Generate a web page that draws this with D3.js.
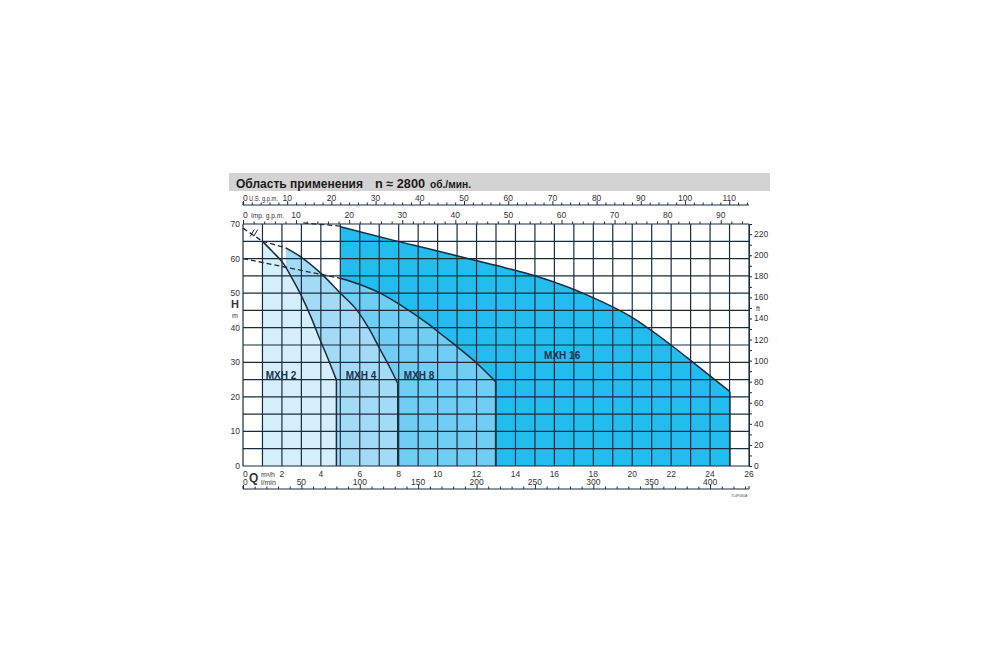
<!DOCTYPE html>
<html><head><meta charset="utf-8">
<script src="https://cdn.jsdelivr.net/npm/d3@7"></script>
<style>
body{margin:0;background:#fff}
svg{display:block}
text{font-family:"Liberation Sans",Arial,Helvetica,sans-serif}
</style>
</head><body>
<svg id="c" width="1000" height="667"></svg>
<script>
// ---------- data ----------
const qLabels   = [0,2,4,6,8,10,12,14,16,18,20,22,24,26];          // m3/h
const lminLabels= [0,50,100,150,200,250,300,350,400];               // l/min
const usLabels  = [0,10,20,30,40,50,60,70,80,90,100,110];           // U.S. g.p.m.
const impLabels = [0,10,20,30,40,50,60,70,80,90];                   // Imp. g.p.m.
const hLabels   = [0,10,20,30,40,50,60,70];                         // m
const ftLabels  = [0,20,40,60,80,100,120,140,160,180,200,220];      // ft

const mxh2Q  = [1, 1.5, 2.07, 2.5, 3.02, 3.5, 3.97, 4.4, 4.8];
const mxh2H  = [65, 62.1, 58.6, 54.5, 49, 43.0, 36.4, 30.6, 24.9];
const mxh4Q  = [2.2, 3.02, 4.05, 5.0, 5.85, 6.5, 6.97, 7.5, 7.95];
const mxh4H  = [63.1, 60.3, 55.5, 50, 45.1, 39.5, 34.5, 29, 23.9];
const mxh8Q  = [5, 6, 7.05, 8.08, 9.46, 10.3, 11.0, 12, 12.98];
const mxh8H  = [54.3, 52.5, 50, 46.6, 41.3, 37.6, 34.5, 29.8, 24.4];
const mxh16Q = [5, 8, 10, 11.86, 13.5, 15.12, 17.87, 19.93, 21.99, 23.19, 25.02];
const mxh16H = [69.2, 64.9, 62.2, 59.6, 57.3, 54.8, 49, 43.2, 35, 29.7, 21.5];

const seriesNames = ["MXH 16","MXH 8","MXH 4","MXH 2"];
const seriesColors= ["#22bdee","#70cdf4","#a3dbf6","#d4eefb"];
const labelQ = [16.4, 9.05, 6.06, 1.95];
const labelH = [32.1, 26.3, 26.3, 26.3];

// dashed extension lines [Q...],[H...]
const dashQ = [[0,1],[1,2.2],[0,5],[3.1,5]];
const dashH = [[68.8,65],[65,63.1],[60,54.3],[70.3,69.4]];

// ---------- scales ----------
const svg = d3.select("#c");
const x = d3.scaleLinear().domain([0,26]).range([243,749]);
const y = d3.scaleLinear().domain([0,70]).range([466,224]);
const xUS  = d3.scaleLinear().domain([0,26*4.40287]).range([243,749]);
const xImp = d3.scaleLinear().domain([0,26*3.66615]).range([243,749]);
const xL   = d3.scaleLinear().domain([0,26*16.6667]).range([243,749]);
const yFt  = d3.scaleLinear().domain([0,70*3.28084]).range([466,224]);

const ink = "#1b2c3e", txt = "#333";

// ---------- title ----------
svg.append("rect").attr("x",229).attr("y",173).attr("width",541).attr("height",18).attr("fill","#d3d3d3");
svg.append("text").attr("x",236).attr("y",188).attr("font-size",13.2).attr("font-weight","bold").attr("fill","#1a1a1a")
   .attr("textLength",127).attr("lengthAdjust","spacingAndGlyphs").text("Область применения");
svg.append("text").attr("x",375).attr("y",188).attr("font-size",12).attr("font-weight","bold").attr("fill","#1a1a1a")
   .attr("textLength",50).attr("lengthAdjust","spacingAndGlyphs").text("n ≈ 2800");
svg.append("text").attr("x",430).attr("y",188).attr("font-size",10).attr("font-weight","bold").attr("fill","#1a1a1a")
   .attr("textLength",41).attr("lengthAdjust","spacingAndGlyphs").text("об./мин.");

// ---------- regions ----------
const allQ = [mxh16Q, mxh8Q, mxh4Q, mxh2Q];
const allH = [mxh16H, mxh8H, mxh4H, mxh2H];
const area = d3.area().x(d=>x(d[0])).y0(y(0)).y1(d=>y(d[1])).curve(d3.curveMonotoneX);
const line = d3.line().x(d=>x(d[0])).y(d=>y(d[1])).curve(d3.curveMonotoneX);
const pts = allQ.map((qs,i)=>qs.map((q,j)=>[q, allH[i][j]]));
svg.append("g").selectAll("path").data(pts).join("path")
   .attr("d", area).attr("fill",(d,i)=>seriesColors[i]);

// ---------- grid ----------
const grid = svg.append("g").attr("stroke",ink).attr("stroke-width",1.2);
grid.selectAll(".v").data(d3.range(0,27,1)).join("line").attr("class","v")
   .attr("x1",d=>x(d)).attr("x2",d=>x(d)).attr("y1",y(70)).attr("y2",y(0));
grid.selectAll(".h").data(d3.range(0,71,5)).join("line").attr("class","h")
   .attr("x1",x(0)).attr("x2",x(26)).attr("y1",d=>y(d)).attr("y2",d=>y(d));

// ---------- curves ----------
const cg = svg.append("g").attr("fill","none").attr("stroke",ink).attr("stroke-width",1.5);
cg.selectAll(".c").data(pts).join("path").attr("class","c").attr("d",line);
cg.selectAll(".e").data(pts).join("line").attr("class","e")
   .attr("x1",d=>x(d[d.length-1][0])).attr("x2",d=>x(d[d.length-1][0]))
   .attr("y1",d=>y(d[d.length-1][1])).attr("y2",y(0));
const dashPts = dashQ.map((qs,i)=>qs.map((q,j)=>[q,dashH[i][j]]));
svg.append("g").selectAll("path").data(dashPts).join("path")
   .attr("d", d3.line().x(d=>x(d[0])).y(d=>y(d[1])))
   .attr("fill","none").attr("stroke",ink).attr("stroke-width",1.3).attr("stroke-dasharray","5,3");
// break mark "//"
[0.5,0.68].forEach(q=>{
  svg.append("line").attr("x1",x(q)-2.5).attr("y1",y(66.4)).attr("x2",x(q)+1.5).attr("y2",y(68.4))
     .attr("stroke",ink).attr("stroke-width",1);
});

// ---------- series labels ----------
svg.append("g").selectAll("text").data(seriesNames).join("text")
   .attr("x",(d,i)=>x(labelQ[i])).attr("y",(d,i)=>y(labelH[i])+3.5)
   .attr("text-anchor","middle").attr("font-size",10).attr("font-weight","bold").attr("fill","#1c3350")
   .text(d=>d);

// ---------- axes ----------
const fs = 8.5;
// left H
svg.append("g").selectAll("text").data(hLabels).join("text")
   .attr("x",240).attr("y",d=>y(d)+3).attr("text-anchor","end").attr("font-size",fs).attr("fill",txt).text(d=>d);
svg.append("text").attr("x",235).attr("y",308).attr("text-anchor","middle").attr("font-size",11).attr("font-weight","bold").attr("fill",txt).text("H");
svg.append("text").attr("x",235).attr("y",318).attr("text-anchor","middle").attr("font-size",7).attr("fill",txt).text("m");

// right ft
const rAx = svg.append("g").attr("transform",`translate(${x(26)},0)`)
   .call(d3.axisRight(yFt).tickValues(d3.range(0,221,10)).tickSize(3).tickFormat(""));
rAx.select(".domain").attr("stroke",ink);
rAx.selectAll("line").attr("stroke",ink);
svg.append("g").selectAll("text").data(ftLabels).join("text")
   .attr("x",754).attr("y",d=>yFt(d)+3).attr("font-size",fs).attr("fill",txt).text(d=>d);
svg.append("text").attr("x",756).attr("y",yFt(150)+3).attr("font-size",7).attr("fill",txt).text("ft");

// top U.S. gpm ruler
const usAx = svg.append("g").attr("transform","translate(0,205)")
   .call(d3.axisTop(xUS).tickValues(d3.range(0,115,2)).tickSize(2.5).tickFormat(""));
usAx.selectAll("line").attr("stroke",ink);
usAx.select(".domain").attr("d",`M${xUS(0)},-3V0H${x(26)}`).attr("stroke",ink);
usAx.selectAll(".tick").filter(d=>d%10===0).select("line").attr("y2",-4);
svg.append("g").selectAll("text").data(usLabels).join("text")
   .attr("x",d=>xUS(d)).attr("y",201).attr("text-anchor",d=>d===0?"start":"middle").attr("font-size",fs).attr("fill",txt).text(d=>d);
svg.append("text").attr("x",249).attr("y",201).attr("font-size",7).attr("fill",txt)
   .attr("textLength",29).attr("lengthAdjust","spacingAndGlyphs").text("U.S. g.p.m.");

// top Imp gpm (ticks on plot top border)
const impAx = svg.append("g").attr("transform",`translate(0,${y(70)})`)
   .call(d3.axisTop(xImp).tickValues(d3.range(0,96,2)).tickSize(2.5).tickFormat(""));
impAx.select(".domain").remove();
impAx.selectAll("line").attr("stroke",ink);
impAx.selectAll(".tick").filter(d=>d%10===0).select("line").attr("y2",-4);
svg.append("g").selectAll("text").data(impLabels).join("text")
   .attr("x",d=>xImp(d)).attr("y",218).attr("text-anchor",d=>d===0?"start":"middle").attr("font-size",fs).attr("fill",txt).text(d=>d);
svg.append("text").attr("x",251).attr("y",218).attr("font-size",7.5).attr("fill",txt)
   .attr("textLength",33).attr("lengthAdjust","spacingAndGlyphs").text("Imp. g.p.m.");

// bottom m3/h labels
svg.append("g").selectAll("text").data(qLabels).join("text")
   .attr("x",d=>x(d)).attr("y",477).attr("text-anchor",d=>d===0?"start":"middle").attr("font-size",fs).attr("fill",txt).text(d=>d);
svg.append("text").attr("x",249).attr("y",482).attr("font-size",12).attr("font-weight","bold").attr("fill",txt).text("Q");
svg.append("text").attr("x",261).attr("y",477).attr("font-size",7).attr("fill",txt).text("m³/h");
// l/min
svg.append("g").selectAll("text").data(lminLabels).join("text")
   .attr("x",d=>xL(d)).attr("y",485).attr("text-anchor",d=>d===0?"start":"middle").attr("font-size",fs).attr("fill",txt).text(d=>d);
svg.append("text").attr("x",261).attr("y",485).attr("font-size",7).attr("fill",txt).text("l/min");
const lAx = svg.append("g").attr("transform","translate(0,489)")
   .call(d3.axisTop(xL).tickValues(d3.range(0,431,10)).tickSize(2.5).tickFormat(""));
lAx.selectAll("line").attr("stroke",ink);
lAx.select(".domain").attr("d",`M${xL(0)},-3V0H${x(26)}V-3`).attr("stroke",ink);
lAx.selectAll(".tick").filter(d=>d%50===0).select("line").attr("y2",-4);
svg.append("text").attr("x",731).attr("y",497).attr("font-size",3.5).attr("fill","#555").text("TL4F080A");
</script>
</body></html>
